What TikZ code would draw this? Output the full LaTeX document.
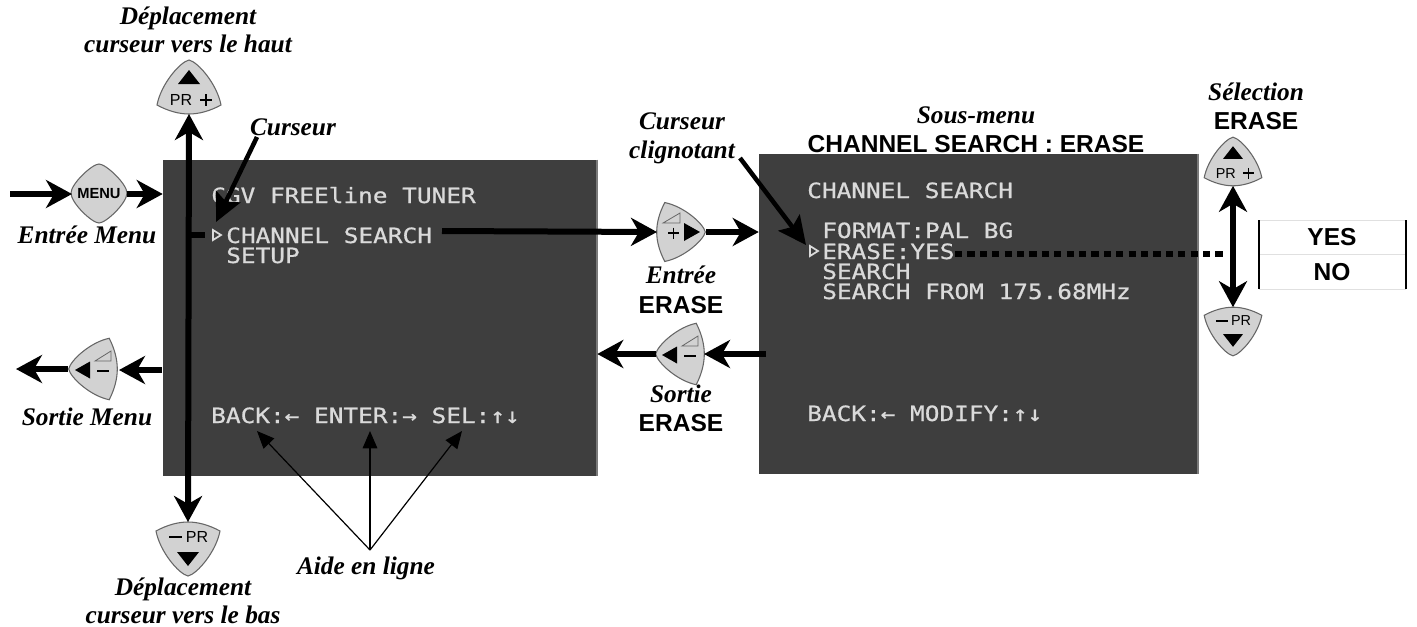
\documentclass[tikz,border=0pt]{standalone}
\usepackage{fontspec}
\setmainfont{Liberation Serif}
\setsansfont{Liberation Sans}
\setmonofont{DejaVu Sans Mono}[BoldFont={DejaVu Sans Mono},BoldFeatures={FakeBold=0.7}]
\usetikzlibrary{arrows.meta,calc}
\definecolor{scr}{HTML}{3E3E3E}
\definecolor{scredge}{HTML}{7A7A7A}
\definecolor{scrtxt}{HTML}{DADADA}
\definecolor{btn}{HTML}{D2D2D2}
\definecolor{btnline}{HTML}{666666}
\newcommand{\shieldpath}{(0,-27) .. controls (-9,-25) and (-28,-3) .. (-32,18) .. controls (-21,24) and (-10,27) .. (0,27) .. controls (10,27) and (21,24) .. (32,18) .. controls (28,-3) and (9,-25) .. (0,-27) -- cycle}
\newcommand{\osdline}[1]{\scalebox{1}[.86]{#1}}
\tikzset{
  x=0.75pt,y=-0.75pt,
  screenbox/.style={fill=scr,draw=none,inner sep=0pt,minimum width=#1},
  fat/.style={line width=4.5pt,-{Stealth[length=19.5pt,width=21pt,inset=6pt]}},
  fatboth/.style={line width=4.5pt,{Stealth[length=19.5pt,width=21pt,inset=6pt]}-{Stealth[length=19.5pt,width=21pt,inset=6pt]}},
  medium/.style={line width=3.4pt,-{Stealth[length=21pt,width=20pt,inset=4pt]}},
  thin arrow/.style={line width=0.9pt,-{Stealth[length=13pt,width=11pt,inset=0pt]}},
  lab/.style={font=\fontsize{19}{19}\selectfont\itshape\bfseries,anchor=base,inner sep=0pt},
  blab/.style={font=\fontsize{18.4}{18.4}\selectfont\sffamily\bfseries,anchor=base,inner sep=0pt},
  osd/.style={font=\fontsize{18.3}{18.3}\selectfont\ttfamily\bfseries,text=scrtxt,anchor=base west,inner sep=0pt},
  btnface/.style={fill=btn,draw=btnline,line width=0.8pt},
  btntext/.style={font=\fontsize{12}{12}\selectfont\sffamily,inner sep=0pt,transform shape},
  marker/.style={draw=scrtxt,line width=1.3pt,fill=scr},
  upbtn/.pic={
    \draw[btnface] \shieldpath;
    \fill (0,-17) -- (-11,-3) -- (11,-3) -- cycle;
    \node[btntext] (-pr) at (-8,13) {PR};
    \draw[line width=1.1pt] (11,13) -- (23,13) (17,7) -- (17,19);
    \coordinate (-s) at (0,27);
  },
  downbtn/.pic={
    \begin{scope}[yscale=-1]\draw[btnface] \shieldpath;\end{scope}
    \fill (0,17) -- (-11,3) -- (11,3) -- cycle;
    \node[btntext] (-pr) at (9,-12) {PR};
    \draw[line width=1.6pt] (-19,-12) -- (-6,-12);
    \coordinate (-n) at (0,-27);
  },
  rightbtn/.pic={
    \begin{scope}[rotate=-90,xscale=.92,yscale=.9]\draw[btnface] \shieldpath;\end{scope}
    \fill (3,-9) -- (3,9) -- (19,0) -- cycle;
    \draw[line width=1pt] (-13,1) -- (-2,1) (-7.5,-4.5) -- (-7.5,6.5);
    \draw[btnline,line width=.6pt] (-18,-9) -- (-1,-9) -- (-1,-19) -- cycle;
    \coordinate (-w) at (-24,0);
    \coordinate (-e) at (25,0);
  },
  leftbtn/.pic={
    \begin{scope}[rotate=90,xscale=.96,yscale=.9]\draw[btnface] \shieldpath;\end{scope}
    \fill (-18,1) -- (-3,-7.5) -- (-3,9.5) -- cycle;
    \draw[line width=1.6pt] (4,2) -- (16,2);
    \draw[btnline,line width=.6pt] (2,-8) -- (18,-8) -- (18,-18) -- cycle;
    \coordinate (-w) at (-24,0);
    \coordinate (-e) at (24,0);
  },
}
\begin{document}
\begin{tikzpicture}[x=0.75pt,y=-0.75pt]
\useasboundingbox (0,0) rectangle (1417,626);
\fill[white] (0,0) rectangle (1417,626);

% screens
\node[screenbox=325.5pt,minimum height=237pt] (s1) at (380,318) {};
\node[screenbox=329.25pt,minimum height=240pt] (s2) at (978.5,314) {};
\draw[scredge,line width=1.5pt] (s1.north east) -- (s1.south east);
\draw[scredge,line width=1.5pt] (s2.north east) -- (s2.south east);

% screen text
\node[osd] (t1) at (211,203) {\osdline{CGV FREEline TUNER}};
\node[osd] (t2) at (226,243) {\osdline{CHANNEL SEARCH}};
\node[osd] (t3) at (226,263) {\osdline{SETUP}};
\node[osd] (t4) at (211,423) {\osdline{BACK:← ENTER:→ SEL:↑↓}};
\node[osd] (t5) at (807,198) {\osdline{CHANNEL SEARCH}};
\node[osd] (t6) at (822,238) {\osdline{FORMAT:PAL BG}};
\node[osd] (t7) at (822,259) {\osdline{ERASE:YES}};
\node[osd] (t8) at (822,279) {\osdline{SEARCH}};
\node[osd] (t9) at (822,299) {\osdline{SEARCH FROM 175.68MHz}};
\node[osd] (t10) at (807,421) {\osdline{BACK:← MODIFY:↑↓}};
\draw[marker] (213,230) -- (213,240) -- (221,235) -- cycle;
\draw[marker] (810,246) -- (810,256) -- (818,251) -- cycle;

% buttons
\draw[btnface] (99,164) .. controls (106,164) and (127,184) .. (127,193) .. controls (127,203) and (106,223) .. (99,223) .. controls (92,223) and (71,203) .. (71,193) .. controls (71,184) and (92,164) .. (99,164) -- cycle;
\node[font=\fontsize{11}{11}\selectfont\sffamily\bfseries,inner sep=0pt] (menu) at (99,194) {MENU};
\coordinate (menuW) at (72,194);
\coordinate (menuE) at (127,194);
\pic (upA) at (189,87) {upbtn};
\pic (dnA) at (188,549) {downbtn};
\pic (lfA) at (93,369) {leftbtn};
\pic (rtB) at (681,232) {rightbtn};
\pic (lfB) at (680,354) {leftbtn};
\pic[scale=.9,transform shape] (upC) at (1233,161.5) {upbtn};
\pic[scale=.9,transform shape] (dnC) at (1233,331.5) {downbtn};

% connectors
\coordinate (mIn) at (10,194);
\draw[fat] (mIn) -- (menuW);
\draw[fat] (menuE) -- (menuE -| s1.west);
\draw[fatboth] (upA-s) -- (dnA-n);
\coordinate (tickA) at (188,235);
\coordinate (tickB) at (205,235);
\draw[line width=4.5pt] (tickA) -- (tickB);
\coordinate (chanE) at (442,231);
\draw[fat] (chanE) -- (rtB-w);
\draw[fat] (rtB-e) -- (rtB-e -| s2.west);
\coordinate (s2out) at (766,354);
\draw[fat] (s2out) -- (lfB-e);
\draw[fat] (lfB-w) -- (lfB-w -| s1.east);
\coordinate (s1out) at (162,370);
\coordinate (lfAe) at (119,370);
\coordinate (lfAw) at (68,369);
\coordinate (exitL) at (16,369);
\draw[fat] (s1out) -- (lfAe);
\draw[fat] (lfAw) -- (exitL);
\draw[fatboth] (upC-s) -- (dnC-n);
\coordinate (dotA) at (955,254);
\coordinate (dotB) at (1227,254);
\draw[line width=5.2pt,dash pattern=on 5.4pt off 3.9pt] (dotA) -- (dotB);

% labels
\node[lab] (l1) at (188,24) {Déplacement};
\node[lab] (l2) at (188,52) {curseur vers le haut};
\node[lab] (l3) at (293,135) {Curseur};
\node[lab] (l4) at (87,243) {Entrée Menu};
\node[lab] (l5) at (87,425) {Sortie Menu};
\node[lab] (l6) at (366,574) {Aide en ligne};
\node[lab] (l7) at (183,595) {Déplacement};
\node[lab] (l8) at (183,623) {curseur vers le bas};
\node[lab] (l9) at (682,129) {Curseur};
\node[lab] (l10) at (682,158) {clignotant};
\node[lab] (l11) at (681,283) {Entrée};
\node[blab] (b1) at (681,313) {ERASE};
\node[lab] (l12) at (681,402) {Sortie};
\node[blab] (b2) at (681,431) {ERASE};
\node[lab] (l13) at (976,123) {Sous-menu};
\node[blab] (b3) at (976,152) {CHANNEL SEARCH : ERASE};
\node[lab] (l14) at (1256,100) {Sélection};
\node[blab] (b4) at (1256,129) {ERASE};

% pointers
\coordinate (curA) at (257,137);
\coordinate (curB) at (216,222);
\draw[medium] (curA) -- (curB);
\coordinate (cliA) at (740,158);
\coordinate (cliB) at (806,245);
\draw[medium] (cliA) -- (cliB);
\coordinate (aideT) at (370,550);
\coordinate (hBack) at (257,431);
\coordinate (hEnter) at (370,431);
\coordinate (hSel) at (462,431);
\draw[thin arrow] (aideT) -- (hBack);
\draw[thin arrow] (aideT) -- (hEnter);
\draw[thin arrow] (aideT) -- (hSel);

% yes / no table
\coordinate (tabNW) at (1259,220);
\coordinate (tabNE) at (1406,220);
\coordinate (tabSW) at (1259,289);
\coordinate (tabSE) at (1406,289);
\draw[black!12,line width=.6pt] (tabNW) -- (tabNE) (1259,254) -- (1406,254) (tabSW) -- (tabSE);
\draw[line width=1.6pt] (tabNW) -- (tabSW) (tabNE) -- (tabSE);
\node[blab] (yes) at (1332,245) {YES};
\node[blab] (no) at (1332,280) {NO};
\end{tikzpicture}
\end{document}
